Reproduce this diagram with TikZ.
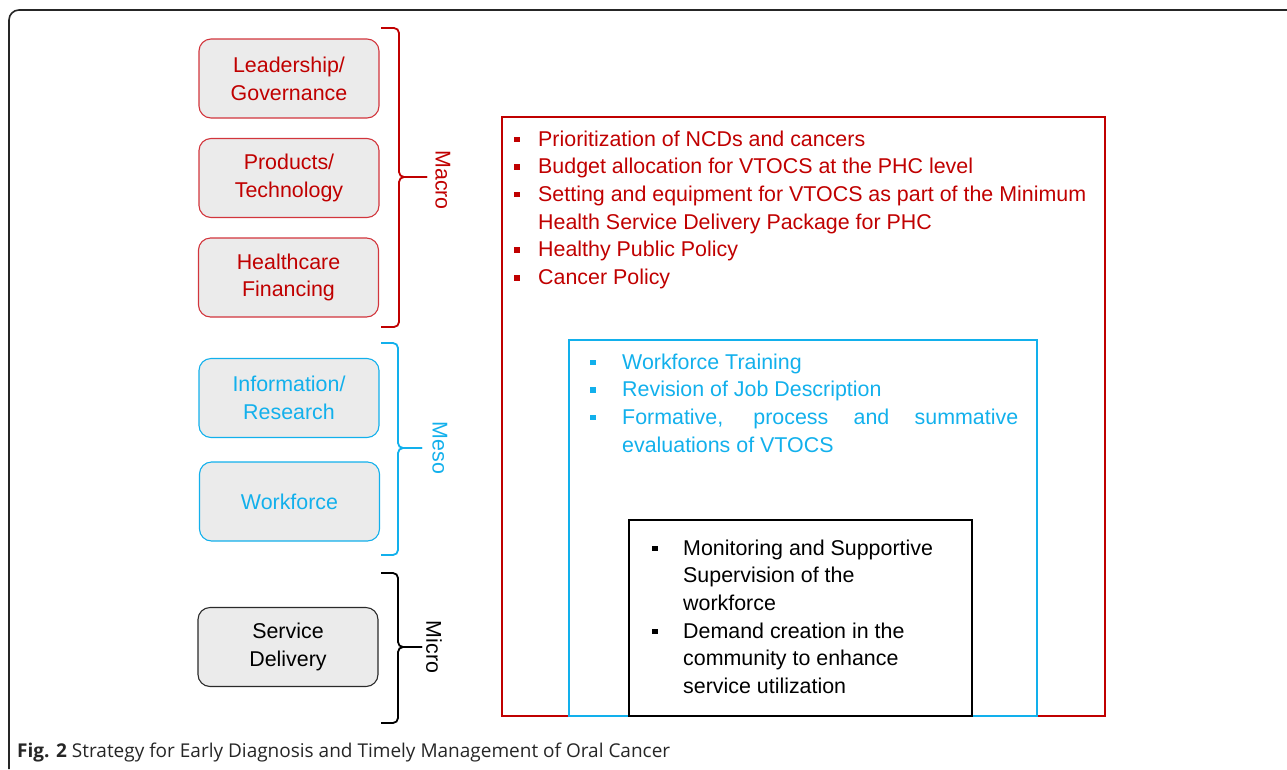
\documentclass[tikz,border=0pt]{standalone}
\usepackage{fontspec}
\setmainfont{Liberation Sans}
\newfontfamily\capfont{Open Sans}

\definecolor{macrored}{HTML}{C00000}
\definecolor{pillarred}{HTML}{D2353C}
\definecolor{mesoblue}{HTML}{12B0EC}
\definecolor{pillarfill}{HTML}{EBEBEB}
\definecolor{microdark}{HTML}{2A2A2A}

\newcommand\diagfont{\fontsize{21.4}{27.7}\selectfont}
% square bullet in a box of fixed width
\newcommand\sqbul[1]{\makebox[#1][l]{\raisebox{4pt}{\rule{5.5pt}{5.5pt}}}}

\tikzset{
  pillar/.style={draw, rounded corners=12pt, fill=pillarfill, line width=1.1pt,
    minimum width=180pt, minimum height=79pt, align=center, font=\diagfont,
    inner sep=0pt},
  macrobox/.style={pillar, draw=pillarred, text=macrored},
  mesobox/.style={pillar, draw=mesoblue, text=mesoblue},
  microbox/.style={pillar, draw=microdark, text=black},
  levelframe/.style={draw, line width=1.8pt, inner sep=0pt},
  bracket/.style={line width=1.8pt, rounded corners=5pt},
  levellabel/.style={rotate=-90, font=\diagfont},
  itemlist/.style={align=left, font=\diagfont, inner sep=0pt, anchor=base west},
}

\begin{document}
\begin{tikzpicture}[x=1pt,y=-1pt]
\useasboundingbox (0,0) rectangle (1287,769);

% outer figure frame
\draw[line width=1.6pt, rounded corners=10pt, draw=black!85] (9,769) -- (9,10) -- (1287,10);

% health system building blocks
\node[macrobox] (lead) at (289,78.5) {Leadership/\\Governance};
\node[macrobox] (prod) at (289,178) {Products/\\Technology};
\node[macrobox] (fin)  at (288.5,277.5) {Healthcare\\Financing};
\node[mesobox]  (info) at (289,398) {Information/\\Research};
\node[mesobox]  (work) at (289.5,501.5) {Workforce};
\node[microbox] (serv) at (288,647) {Service\\Delivery};

% brackets grouping the blocks by level
\coordinate (macroT) at (381,28);  \coordinate (macroB) at (381,327);
\coordinate (macroTip) at (427,177);
\coordinate (mesoT) at (381,343);  \coordinate (mesoB) at (381,555);
\coordinate (mesoTip) at (422,448);
\coordinate (microT) at (381,573); \coordinate (microB) at (381,723);
\coordinate (microTip) at (422,647);

\draw[bracket, draw=macrored] (macroT) -- (399,28) -- (399,177) -- (macroTip);
\draw[bracket, draw=macrored] (macroB) -- (399,327) -- (399,177) -- (macroTip);
\draw[bracket, draw=mesoblue] (mesoT) -- (398,343) -- (398,448) -- (mesoTip);
\draw[bracket, draw=mesoblue] (mesoB) -- (398,555) -- (398,448) -- (mesoTip);
\draw[bracket, draw=black] (microT) -- (398,573) -- (398,647) -- (microTip);
\draw[bracket, draw=black] (microB) -- (398,723) -- (398,647) -- (microTip);

\node[levellabel, text=macrored] (macro) at (443,180) {Macro};
\node[levellabel, text=mesoblue] (meso)  at (440,448) {Meso};
\node[levellabel, text=black]    (micro) at (434,647) {Micro};

% nested strategy frames
\node[levelframe, draw=macrored, minimum width=603pt, minimum height=599pt] (macroframe) at (803.5,416.5) {};
\node[levelframe, draw=mesoblue, minimum width=468pt, minimum height=376pt] (mesoframe) at (803,528) {};
\node[levelframe, draw=black, fill=white, minimum width=343pt, minimum height=196pt] (microframe) at (800.5,618) {};

% strategy lists (anchored at the baseline of their last line)
\node[itemlist, text=macrored] (macrolist) at (514,284.5) {%
\sqbul{24pt}Prioritization of NCDs and cancers\\
\sqbul{24pt}Budget allocation for VTOCS at the PHC level\\
\sqbul{24pt}Setting and equipment for VTOCS as part of the Minimum\\
\hspace*{24pt}Health Service Delivery Package for PHC\\
\sqbul{24pt}Healthy Public Policy\\
\sqbul{24pt}Cancer Policy};

\node[itemlist, text=mesoblue] (mesolist) at (590,452.1) {%
\sqbul{32pt}Workforce Training\\
\sqbul{32pt}Revision of Job Description\\
\sqbul{32pt}\makebox[396pt][s]{Formative, process and summative}\\
\hspace*{32pt}evaluations of VTOCS};

\node[itemlist, text=black] (microlist) at (652,693.5) {%
\sqbul{31pt}Monitoring and Supportive\\
\hspace*{31pt}Supervision of the\\
\hspace*{31pt}workforce\\
\sqbul{31pt}Demand creation in the\\
\hspace*{31pt}community to enhance\\
\hspace*{31pt}service utilization};

% caption
\node[anchor=base west, inner sep=0pt, font=\capfont\fontsize{19}{22}\selectfont, text=black!85] (caption) at (17,757)
  {\textbf{Fig. 2} Strategy for Early Diagnosis and Timely Management of Oral Cancer};
\end{tikzpicture}
\end{document}
